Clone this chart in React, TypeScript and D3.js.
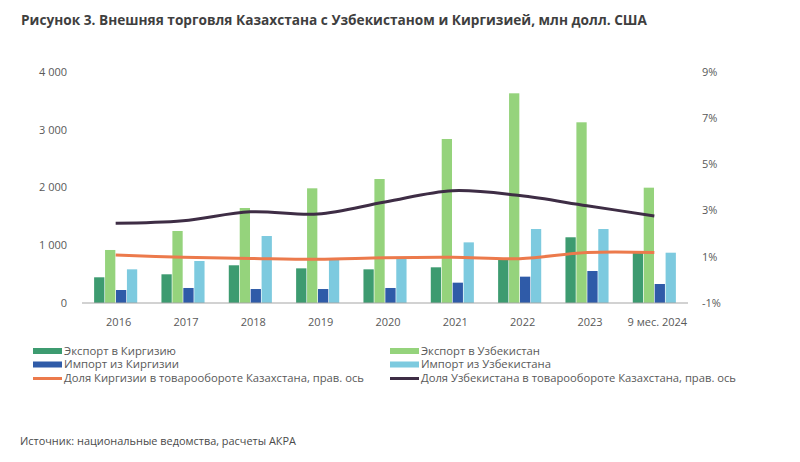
import React, { useEffect, useRef } from "react";
import * as d3 from "d3";

const years = ["2016", "2017", "2018", "2019", "2020", "2021", "2022", "2023", "9 мес. 2024"];
const exportKg = [445, 497, 653, 600, 583, 618, 757, 1138, 871];
const exportUz = [918, 1247, 1645, 1986, 2147, 2840, 3631, 3129, 1997];
const importKg = [225, 260, 242, 242, 260, 352, 456, 554, 329];
const importUz = [583, 727, 1160, 757, 780, 1050, 1281, 1281, 871];
const shareKg = [1.08, 0.98, 0.93, 0.89, 0.96, 0.98, 0.92, 1.19, 1.19];
const shareUz = [2.45, 2.56, 2.95, 2.85, 3.37, 3.86, 3.65, 3.21, 2.77];
const leftTicks = [0, 1000, 2000, 3000, 4000];
const rightTicks = [-1, 1, 3, 5, 7, 9];

const barSeries = [
  { key: "exportKg", name: "Экспорт в Киргизию", color: "#3d9b70", values: exportKg },
  { key: "exportUz", name: "Экспорт в Узбекистан", color: "#95d37c", values: exportUz },
  { key: "importKg", name: "Импорт из Киргизии", color: "#2f5ba8", values: importKg },
  { key: "importUz", name: "Импорт из Узбекистана", color: "#7dcadf", values: importUz },
];
const lineSeries = [
  { name: "Доля Киргизии в товарообороте Казахстана, прав. ось", color: "#ec7a4c", values: shareKg },
  { name: "Доля Узбекистана в товарообороте Казахстана, прав. ось", color: "#3e2d45", values: shareUz },
];

const W = 800;
const H = 462;
const font = "'Open Sans', 'Noto Sans', sans-serif";
const textColor = "#595959";

export default function App() {
  const ref = useRef<SVGSVGElement>(null);

  useEffect(() => {
    const svg = d3.select(ref.current);
    svg.selectAll("*").remove();

    const x = d3.scaleBand().domain(years).range([82, 688]).paddingInner(0.36).paddingOuter(0.18);
    const xi = d3.scaleBand().domain(barSeries.map((s) => s.key)).range([0, x.bandwidth()]).paddingInner(0.06);
    const yL = d3.scaleLinear().domain([0, 4000]).range([303, 72]);
    const yR = d3.scaleLinear().domain([-1, 9]).range([303, 72]);
    const fmt = d3.formatLocale({ decimal: ",", thousands: "\u00a0", grouping: [3], currency: ["", ""] }).format(",");

    // title
    svg.append("text")
      .attr("x", 21).attr("y", 25)
      .attr("font-family", font).attr("font-weight", "bold").attr("font-size", 14)
      .attr("fill", "#3f3f3f")
      .attr("textLength", 626).attr("lengthAdjust", "spacingAndGlyphs")
      .text("Рисунок 3. Внешняя торговля Казахстана с Узбекистаном и Киргизией, млн долл. США");

    // bars
    barSeries.forEach((s) => {
      svg.append("g").selectAll("rect")
        .data(s.values)
        .enter()
        .append("rect")
        .attr("x", (d, i) => (x(years[i]) as number) + (xi(s.key) as number))
        .attr("y", (d) => yL(d))
        .attr("width", xi.bandwidth())
        .attr("height", (d) => yL(0) - yL(d))
        .attr("fill", s.color);
    });

    // baseline
    svg.append("line")
      .attr("x1", 82).attr("x2", 688)
      .attr("y1", yL(0)).attr("y2", yL(0))
      .attr("stroke", "#a6a6a6").attr("stroke-width", 1.2);

    // lines on right axis
    lineSeries.forEach((s) => {
      const line = d3.line<number>()
        .x((d, i) => (x(years[i]) as number) + x.bandwidth() / 2)
        .y((d) => yR(d))
        .curve(d3.curveCatmullRom.alpha(0.5));
      svg.append("path")
        .attr("d", line(s.values))
        .attr("fill", "none")
        .attr("stroke", s.color)
        .attr("stroke-width", 3);
    });

    // left axis labels
    svg.append("g").selectAll("text")
      .data(leftTicks)
      .enter()
      .append("text")
      .attr("x", 67).attr("y", (d) => yL(d)).attr("dy", "0.35em")
      .attr("text-anchor", "end")
      .attr("font-family", font).attr("font-size", 11).attr("fill", textColor)
      .text((d) => fmt(d));

    // right axis labels
    svg.append("g").selectAll("text")
      .data(rightTicks)
      .enter()
      .append("text")
      .attr("x", 702).attr("y", (d) => yR(d)).attr("dy", "0.35em")
      .attr("font-family", font).attr("font-size", 11).attr("fill", textColor)
      .text((d) => d + "%");

    // category labels
    svg.append("g").selectAll("text")
      .data(years)
      .enter()
      .append("text")
      .attr("x", (d) => (x(d) as number) + x.bandwidth() / 2 + 3)
      .attr("y", 322).attr("dy", "0.35em")
      .attr("text-anchor", "middle")
      .attr("font-family", font).attr("font-size", 11).attr("fill", textColor)
      .text((d) => d);

    // legend
    const legend = svg.append("g");
    const cols = [33, 390];
    const rows = [351, 364.5, 378.5];
    const items = [
      { ...barSeries[0], col: 0, row: 0, type: "bar", w: 112 },
      { ...barSeries[1], col: 1, row: 0, type: "bar", w: 119 },
      { ...barSeries[2], col: 0, row: 1, type: "bar", w: 115 },
      { ...barSeries[3], col: 1, row: 1, type: "bar", w: 130 },
      { ...lineSeries[0], col: 0, row: 2, type: "line", w: 300 },
      { ...lineSeries[1], col: 1, row: 2, type: "line", w: 315 },
    ];
    items.forEach((it) => {
      const lx = cols[it.col];
      const ly = rows[it.row];
      if (it.type === "bar") {
        legend.append("rect").attr("x", lx).attr("y", ly - 3).attr("width", 29).attr("height", 6).attr("fill", it.color);
      } else {
        legend.append("line").attr("x1", lx).attr("x2", lx + 29).attr("y1", ly).attr("y2", ly)
          .attr("stroke", it.color).attr("stroke-width", 3);
      }
      legend.append("text")
        .attr("x", lx + 31).attr("y", ly).attr("dy", "0.35em")
        .attr("font-family", font).attr("font-size", 10.5).attr("fill", textColor)
        .attr("textLength", it.w).attr("lengthAdjust", "spacingAndGlyphs")
        .text(it.name);
    });

    // source
    svg.append("text")
      .attr("x", 20).attr("y", 441).attr("dy", "0.35em")
      .attr("font-family", font).attr("font-size", 10.5).attr("fill", "#4a4a4a")
      .attr("textLength", 276).attr("lengthAdjust", "spacingAndGlyphs")
      .text("Источник: национальные ведомства, расчеты АКРА");
  }, []);

  return (
    <svg ref={ref} width={W} height={H} style={{ position: "absolute", left: 0, top: 0, background: "#fff" }} />
  );
}
